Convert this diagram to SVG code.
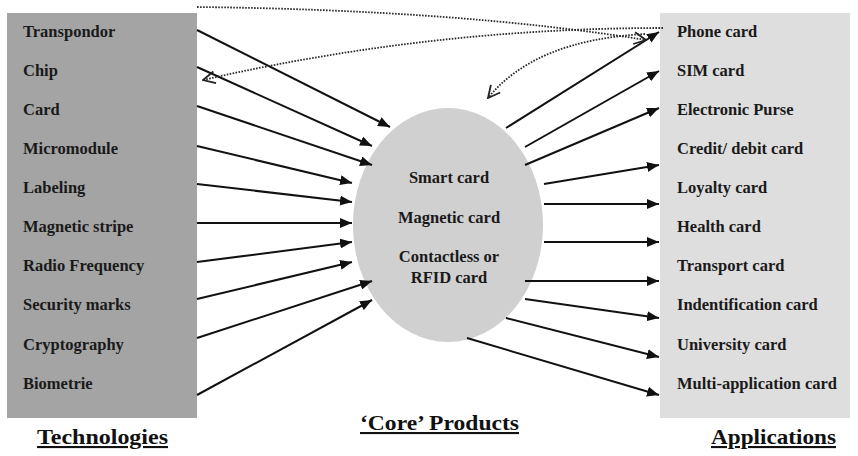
<svg xmlns="http://www.w3.org/2000/svg" width="858" height="456" viewBox="0 0 858 456">
  <defs>
    <marker id="head" viewBox="0 0 12 10" refX="12" refY="5" markerWidth="12" markerHeight="10" markerUnits="userSpaceOnUse" orient="auto">
      <path d="M0,0 L12,5 L0,10 Z" fill="#111"/>
    </marker>
    <marker id="open" viewBox="0 0 14 14" refX="13" refY="7" markerWidth="14" markerHeight="14" markerUnits="userSpaceOnUse" orient="auto">
      <path d="M1,1 L13,7 L1,13" fill="none" stroke="#222" stroke-width="1.8"/>
    </marker>
  </defs>
  <style>
    .lbl { font-family: "Liberation Serif", "Times New Roman", serif; font-weight: bold; font-size: 16.5px; fill: #1a1a1a; }
    .core { font-family: "Liberation Serif", "Times New Roman", serif; font-weight: bold; font-size: 16.5px; fill: #1a1a1a; text-anchor: middle; }
    .title { font-family: "Liberation Serif", "Times New Roman", serif; font-weight: bold; font-size: 21px; fill: #111; text-decoration: underline; }
    .arrow { stroke: #111; stroke-width: 2; fill: none; marker-end: url(#head); }
    .dot { stroke: #2a2a2a; stroke-width: 1.8; stroke-dasharray: 1.6 1.4; fill: none; marker-end: url(#open); }
  </style>

  <!-- Technologies column -->
  <g id="technologies">
    <rect x="7" y="13" width="190" height="405" fill="#a4a4a4"/>
    <text class="lbl" x="23" y="37">Transpondor</text>
    <text class="lbl" x="23" y="76">Chip</text>
    <text class="lbl" x="23" y="115">Card</text>
    <text class="lbl" x="23" y="154">Micromodule</text>
    <text class="lbl" x="23" y="193">Labeling</text>
    <text class="lbl" x="23" y="232">Magnetic stripe</text>
    <text class="lbl" x="23" y="271">Radio Frequency</text>
    <text class="lbl" x="23" y="310">Security marks</text>
    <text class="lbl" x="23" y="350">Cryptography</text>
    <text class="lbl" x="23" y="389">Biometrie</text>
  </g>

  <!-- Core products -->
  <g id="core-products">
    <ellipse cx="448" cy="225" rx="95" ry="117" fill="#d0d0d0"/>
    <text class="core" x="449" y="183">Smart card</text>
    <text class="core" x="449" y="223">Magnetic card</text>
    <text class="core" x="449" y="262">Contactless or</text>
    <text class="core" x="449" y="283">RFID card</text>
  </g>

  <!-- Applications column -->
  <g id="applications">
    <rect x="660" y="13" width="190" height="405" fill="#dedede"/>
    <text class="lbl" x="677" y="37">Phone card</text>
    <text class="lbl" x="677" y="76">SIM card</text>
    <text class="lbl" x="677" y="115">Electronic Purse</text>
    <text class="lbl" x="677" y="154">Credit/ debit card</text>
    <text class="lbl" x="677" y="193">Loyalty card</text>
    <text class="lbl" x="677" y="232">Health card</text>
    <text class="lbl" x="677" y="271">Transport card</text>
    <text class="lbl" x="677" y="310">Indentification card</text>
    <text class="lbl" x="677" y="350">University card</text>
    <text class="lbl" x="677" y="389">Multi-application card</text>
  </g>

  <!-- Column titles -->
  <g id="titles">
    <text class="title" x="37" y="444" textLength="131" lengthAdjust="spacingAndGlyphs">Technologies</text>
    <text class="title" x="360" y="430" textLength="159" lengthAdjust="spacingAndGlyphs">‘Core’ Products</text>
    <text class="title" x="711" y="444" textLength="125" lengthAdjust="spacingAndGlyphs">Applications</text>
  </g>

  <!-- Connectors -->
  <g id="connectors">
    <!-- technologies into core products -->
    <line class="arrow" x1="197" y1="30" x2="390" y2="127"/>
    <line class="arrow" x1="197" y1="67" x2="372" y2="146"/>
    <line class="arrow" x1="197" y1="106" x2="372" y2="165"/>
    <line class="arrow" x1="197" y1="146" x2="352" y2="183"/>
    <line class="arrow" x1="197" y1="184" x2="352" y2="202"/>
    <line class="arrow" x1="197" y1="223" x2="352" y2="223"/>
    <line class="arrow" x1="197" y1="262" x2="352" y2="242"/>
    <line class="arrow" x1="197" y1="299" x2="352" y2="262"/>
    <line class="arrow" x1="197" y1="338" x2="372" y2="281"/>
    <line class="arrow" x1="197" y1="395" x2="372" y2="300"/>
    <!-- core products out to applications -->
    <line class="arrow" x1="506" y1="128" x2="659" y2="32"/>
    <line class="arrow" x1="525" y1="147" x2="659" y2="71"/>
    <line class="arrow" x1="525" y1="165" x2="659" y2="108"/>
    <line class="arrow" x1="544" y1="184" x2="659" y2="165"/>
    <line class="arrow" x1="544" y1="204" x2="659" y2="204"/>
    <line class="arrow" x1="544" y1="242" x2="659" y2="242"/>
    <line class="arrow" x1="525" y1="281" x2="659" y2="281"/>
    <line class="arrow" x1="525" y1="299" x2="659" y2="318"/>
    <line class="arrow" x1="506" y1="318" x2="659" y2="357"/>
    <line class="arrow" x1="467" y1="338" x2="659" y2="395"/>
    <!-- dotted feedback links -->
    <path class="dot" d="M197,7 Q460,10 646,40"/>
    <path class="dot" d="M663,28 Q430,28 203,80"/>
    <path class="dot" d="M645,34 Q535,40 488,98"/>
  </g>
</svg>
